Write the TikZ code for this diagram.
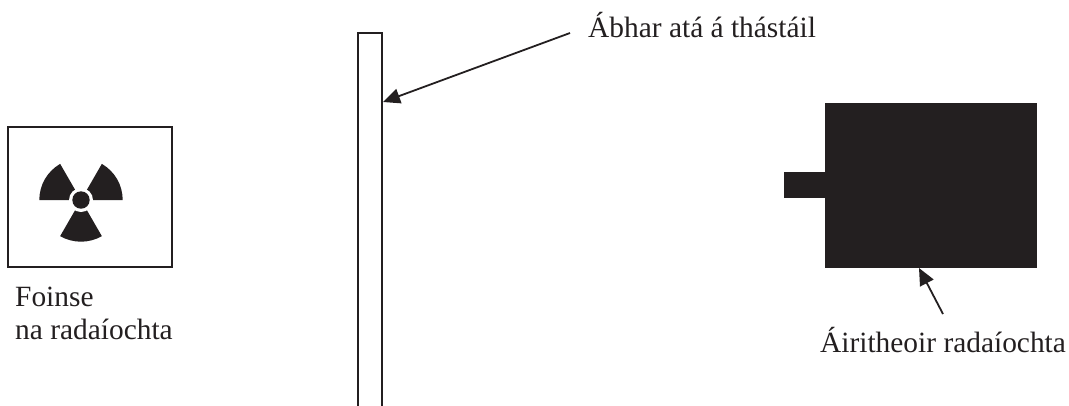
\documentclass[tikz,border=0pt]{standalone}
\usepackage{fontspec}
\setmainfont{Liberation Serif}
\usetikzlibrary{arrows.meta}
\definecolor{ink}{HTML}{231F20}
\tikzset{
  outline/.style={draw=ink,line width=1.5pt,fill=none},
  solidblock/.style={fill=ink,draw=none},
  pointer/.style={draw=ink,line width=1.8pt,-{Triangle[length=17pt,width=15pt]}},
  label/.style={text=ink,font=\fontsize{29.4}{34}\selectfont,inner sep=0pt,anchor=base west,align=left},
}
\begin{document}
\begin{tikzpicture}[x=1pt,y=-1pt]
\useasboundingbox (0,0) rectangle (1069,405);
% source box
\draw[outline] (8,127) rectangle (172,267);
\coordinate (sym) at (81,200);
\begin{scope}[shift={(sym)}]
\foreach \a in {0,120,240}{
  \fill[ink] (0pt,0pt) -- (\a:41.7pt) arc[start angle=\a,end angle=\a+60,radius=41.7pt] -- cycle;
}
\fill[white] (0pt,0pt) circle[radius=12pt];
\fill[ink] (0pt,0pt) circle[radius=8.7pt];
\end{scope}
% material plate
\draw[outline] (358,410) -- (358,33) -- (382,33) -- (382,410);
\coordinate (plate) at (383,102);
\coordinate (matfrom) at (570,33);
\draw[pointer] (matfrom) -- (plate);
\node[label] (mat) at (588,37.7) {Ábhar atá á thástáil};
% detector
\fill[solidblock] (825,103) rectangle (1037,268);
\fill[solidblock] (784,172) rectangle (825,198);
\coordinate (det) at (919,268);
\coordinate (detfrom) at (943,314);
\draw[pointer] (detfrom) -- (det);
\node[label] (detl) at (820,352.7) {Áiritheoir radaíochta};
\node[label] (src1) at (15,306.7) {Foinse};
\node[label] (src2) at (15,339.5) {na radaíochta};
\end{tikzpicture}
\end{document}
